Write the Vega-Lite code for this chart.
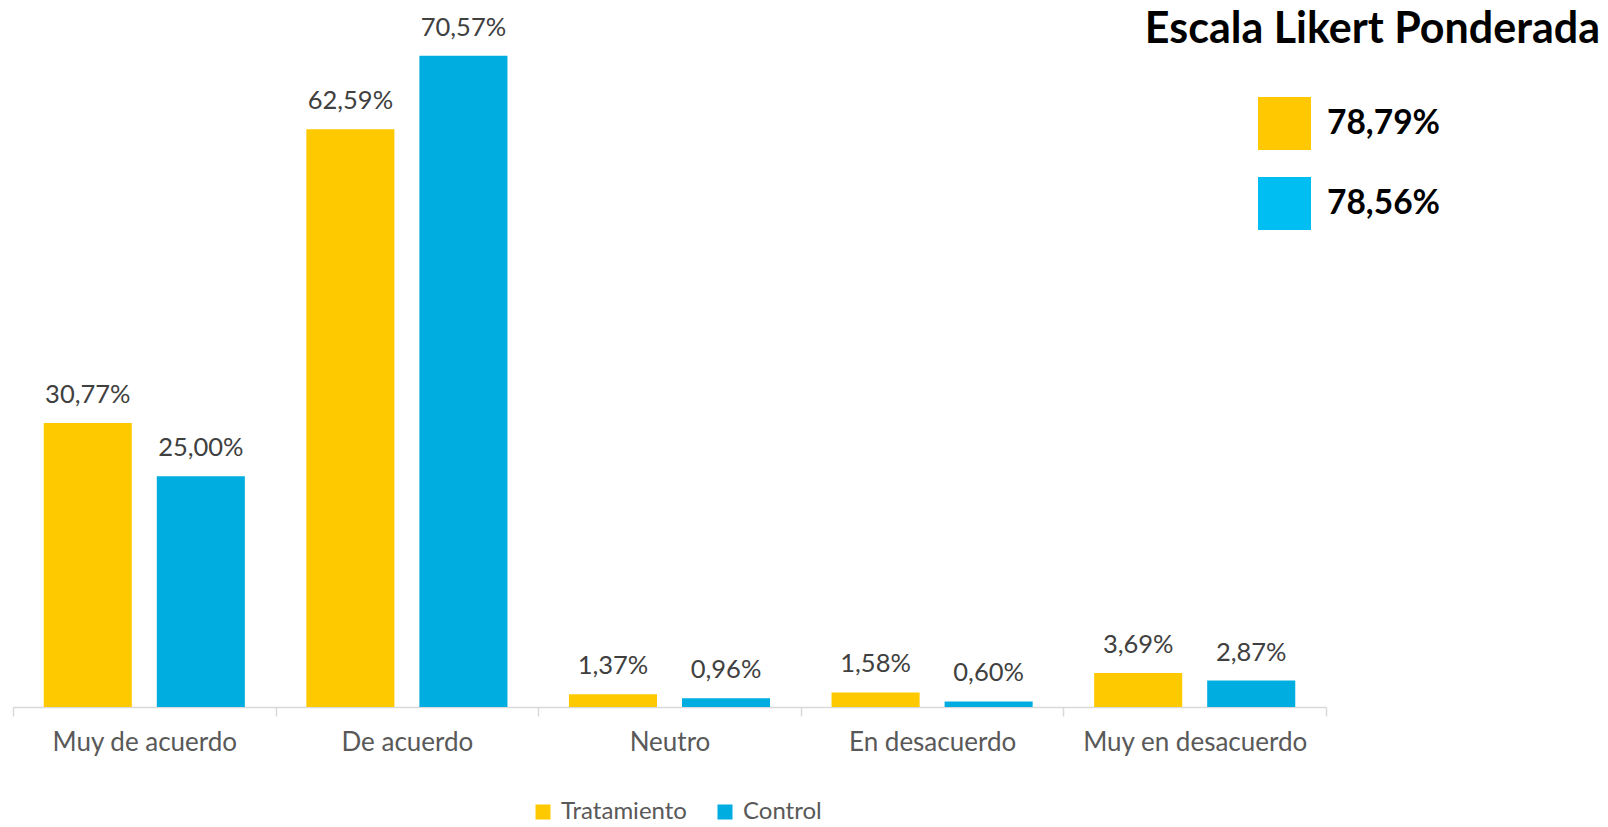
{
  "$schema": "https://vega.github.io/schema/vega-lite/v6.json",
  "autosize": {"type": "none"},
  "width": 1313,
  "height": 657,
  "padding": {"left": 13, "top": 50, "right": 282, "bottom": 120},
  "background": "white",
  "title": {
    "text": "Escala Likert Ponderada",
    "anchor": "end",
    "frame": "group",
    "font": "Lato",
    "fontSize": 43,
    "fontWeight": "bold",
    "color": "#000000",
    "baseline": "alphabetic",
    "dx": 274,
    "dy": 80,
    "offset": 10
  },
  "datasets": {
    "likert": [
      {"categoria": "Muy de acuerdo", "grupo": "Tratamiento", "valor": 30.77, "etiqueta": "30,77%"},
      {"categoria": "Muy de acuerdo", "grupo": "Control", "valor": 25.0, "etiqueta": "25,00%"},
      {"categoria": "De acuerdo", "grupo": "Tratamiento", "valor": 62.59, "etiqueta": "62,59%"},
      {"categoria": "De acuerdo", "grupo": "Control", "valor": 70.57, "etiqueta": "70,57%"},
      {"categoria": "Neutro", "grupo": "Tratamiento", "valor": 1.37, "etiqueta": "1,37%"},
      {"categoria": "Neutro", "grupo": "Control", "valor": 0.96, "etiqueta": "0,96%"},
      {"categoria": "En desacuerdo", "grupo": "Tratamiento", "valor": 1.58, "etiqueta": "1,58%"},
      {"categoria": "En desacuerdo", "grupo": "Control", "valor": 0.6, "etiqueta": "0,60%"},
      {"categoria": "Muy en desacuerdo", "grupo": "Tratamiento", "valor": 3.69, "etiqueta": "3,69%"},
      {"categoria": "Muy en desacuerdo", "grupo": "Control", "valor": 2.87, "etiqueta": "2,87%"}
    ],
    "ponderada": [
      {"grupo": "Tratamiento", "ponderada": "78,79%"},
      {"grupo": "Control", "ponderada": "78,56%"}
    ]
  },
  "layer": [
    {
      "data": {"name": "likert"},
      "mark": {"type": "bar"},
      "encoding": {
        "x": {
          "field": "categoria",
          "type": "nominal",
          "sort": ["Muy de acuerdo", "De acuerdo", "Neutro", "En desacuerdo", "Muy en desacuerdo"],
          "scale": {"paddingInner": 0, "paddingOuter": 0},
          "axis": {
            "title": null,
            "labelAngle": 0,
            "labelFont": "Lato",
            "labelFontSize": 26,
            "labelColor": "#595959",
            "labelPadding": 13,
            "labelLimit": 500,
            "domainColor": "#D9D9D9",
            "domainWidth": 1.5,
            "tickColor": "#D9D9D9",
            "tickWidth": 1.5,
            "tickSize": 9,
            "tickBand": "extent",
            "grid": false
          }
        },
        "xOffset": {
          "field": "grupo",
          "type": "nominal",
          "sort": ["Tratamiento", "Control"],
          "scale": {"paddingInner": 0.221, "paddingOuter": 0.272}
        },
        "y": {
          "field": "valor",
          "type": "quantitative",
          "scale": {"domain": [0, 71.18], "nice": false},
          "axis": null
        },
        "color": {
          "field": "grupo",
          "type": "nominal",
          "scale": {"domain": ["Tratamiento", "Control"], "range": ["#FFC900", "#00ADE0"]},
          "legend": {
            "title": null,
            "orient": "none",
            "direction": "horizontal",
            "legendX": 518,
            "legendY": 750,
            "symbolType": "square",
            "symbolSize": 225,
            "symbolStrokeWidth": 0,
            "labelFont": "Lato",
            "labelFontSize": 24,
            "labelColor": "#595959",
            "labelOffset": 6,
            "columnPadding": 26
          }
        }
      }
    },
    {
      "data": {"name": "likert"},
      "mark": {"type": "text", "baseline": "alphabetic", "dy": -20, "font": "Lato", "fontSize": 25.5, "color": "#404040"},
      "encoding": {
        "x": {"field": "categoria", "type": "nominal", "sort": ["Muy de acuerdo", "De acuerdo", "Neutro", "En desacuerdo", "Muy en desacuerdo"]},
        "xOffset": {"field": "grupo", "type": "nominal", "sort": ["Tratamiento", "Control"]},
        "y": {"field": "valor", "type": "quantitative"},
        "text": {"field": "etiqueta", "type": "nominal"}
      }
    },
    {
      "data": {"name": "ponderada"},
      "mark": {"type": "square", "opacity": 0},
      "encoding": {
        "fill": {
          "field": "ponderada",
          "type": "nominal",
          "scale": {"domain": ["78,79%", "78,56%"], "range": ["#FFC800", "#00BEF2"]},
          "legend": {
            "title": null,
            "orient": "none",
            "direction": "vertical",
            "legendX": 1245,
            "legendY": 47,
            "symbolType": "square",
            "symbolSize": 2809,
            "symbolStrokeWidth": 0,
            "symbolOpacity": 1,
            "labelFont": "Lato",
            "labelFontSize": 33.5,
            "labelFontWeight": "bold",
            "labelColor": "#000000",
            "labelOffset": 16,
            "rowPadding": 27,
            "encode": {"symbols": {"update": {"opacity": {"value": 1}, "fillOpacity": {"value": 1}}}}
          }
        }
      }
    }
  ],
  "config": {"view": {"stroke": null}}
}
